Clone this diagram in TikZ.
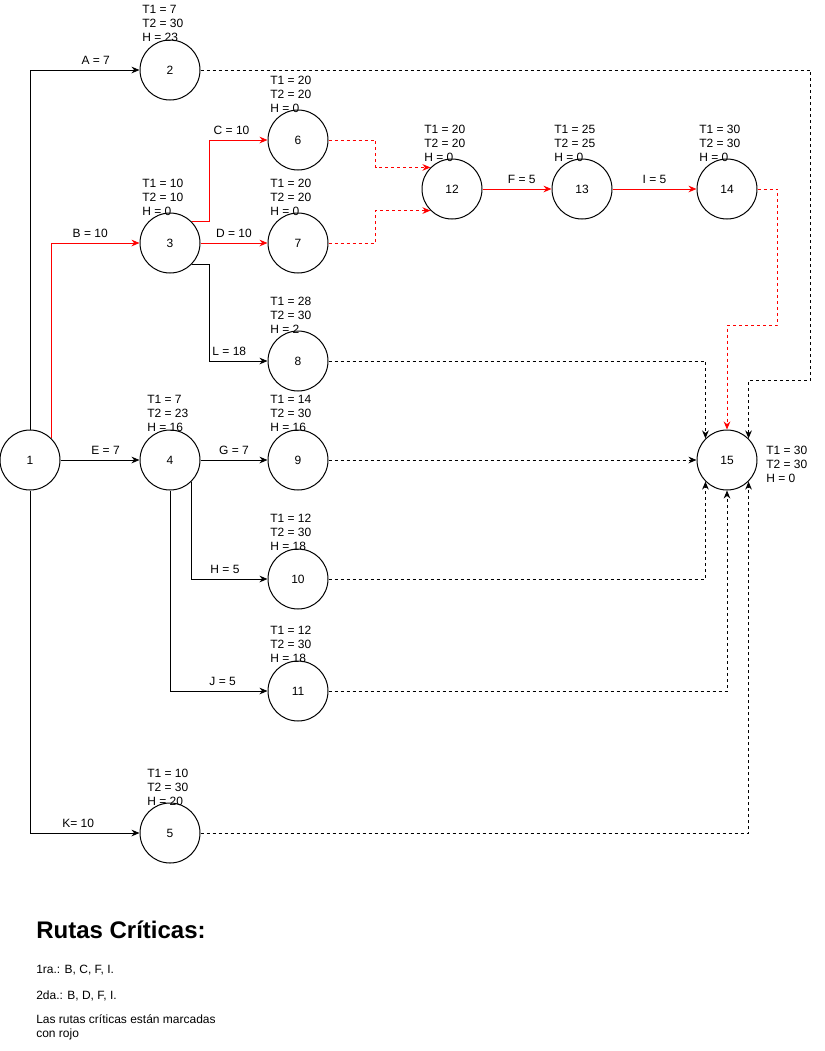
\documentclass[tikz,border=0pt]{standalone}
\usepackage{fontspec}
\setmainfont{Liberation Sans}
\usepackage{xcolor}
\usetikzlibrary{arrows.meta}

\begin{document}
\begin{tikzpicture}[x=0.75pt, y=-0.75pt, font=\fontsize{9}{10.5}\selectfont]
    \tikzstyle{event} = [circle, draw=black, fill=white, line width=0.75pt, minimum size=45pt, inner sep=0pt]
    \tikzstyle{info} = [anchor=west, align=left, inner sep=0pt]
    \tikzstyle{lbl} = [above=4pt, inner sep=0pt]
    \tikzstyle{act} = [line width=0.75pt, -{Stealth[length=6pt, width=5pt]}]
    \tikzstyle{crit} = [act, draw=red]
    \tikzstyle{dummy} = [act, dash pattern=on 2.25pt off 2.25pt]

    \useasboundingbox (0,0) rectangle (825,1051);

    % events
    \node (n1) [event] at (30,460) {1};
    \node (n2) [event] at (170,70) {2};
    \node (n3) [event] at (170,243) {3};
    \node (n4) [event] at (170,460) {4};
    \node (n5) [event] at (170,833) {5};
    \node (n6) [event] at (298,140) {6};
    \node (n7) [event] at (298,243) {7};
    \node (n8) [event] at (298,361) {8};
    \node (n9) [event] at (298,460) {9};
    \node (n10) [event] at (298,579) {10};
    \node (n11) [event] at (298,691) {11};
    \node (n12) [event] at (452,189) {12};
    \node (n13) [event] at (582,189) {13};
    \node (n14) [event] at (727,189) {14};
    \node (n15) [event] at (727,460) {15};

    % times
    \node (i2) [info] at (142,23) {T1 = 7\\T2 = 30\\H = 23};
    \node (i3) [info] at (142,197) {T1 = 10\\T2 = 10\\H = 0};
    \node (i4) [info] at (147,413) {T1 = 7\\T2 = 23\\H = 16};
    \node (i5) [info] at (147,787) {T1 = 10\\T2 = 30\\H = 20};
    \node (i6) [info] at (270,94) {T1 = 20\\T2 = 20\\H = 0};
    \node (i7) [info] at (270,197) {T1 = 20\\T2 = 20\\H = 0};
    \node (i8) [info] at (270,315) {T1 = 28\\T2 = 30\\H = 2};
    \node (i9) [info] at (270,413) {T1 = 14\\T2 = 30\\H = 16};
    \node (i10) [info] at (270,532) {T1 = 12\\T2 = 30\\H = 18};
    \node (i11) [info] at (270,644) {T1 = 12\\T2 = 30\\H = 18};
    \node (i12) [info] at (424,143) {T1 = 20\\T2 = 20\\H = 0};
    \node (i13) [info] at (554,143) {T1 = 25\\T2 = 25\\H = 0};
    \node (i14) [info] at (699,143) {T1 = 30\\T2 = 30\\H = 0};
    \node (i15) [info] at (766,464) {T1 = 30\\T2 = 30\\H = 0};

    % activities
    \draw[act] (n1) |- node[lbl, pos=0.8] {A = 7} (n2);
    \draw[crit] (n1.45) |- node[lbl, pos=0.72] {B = 10} (n3);
    \draw[crit] (n3.45) -- ++(18,0) |- node[lbl, pos=0.69] {C = 10} (n6);
    \draw[crit] (n3) -- node[lbl] {D = 10} (n7);
    \draw[act] (n3.-45) -- ++(18,0) |- node[lbl, pos=0.67] {L = 18} (n8);
    \draw[act] (n1) -- node[lbl, pos=0.57] {E = 7} (n4);
    \draw[act] (n4) -- node[lbl] {G = 7} (n9);
    \draw[act] (n4.-45) |- node[lbl, pos=0.72] {H = 5} (n10);
    \draw[act] (n4) |- node[lbl, pos=0.77] {J = 5} (n11);
    \draw[act] (n1) |- node[lbl, pos=0.72] {K= 10} (n5);
    \draw[crit] (n12) -- node[lbl, pos=0.57] {F = 5} (n13);
    \draw[crit] (n13) -- node[lbl] {I = 5} (n14);

    % dummies
    \draw[dummy, red] (n6.east) -- ++(47,0) |- (n12.135);
    \draw[dummy, red] (n7.east) -- ++(47,0) |- (n12.-135);
    \draw[dummy, red] (n14.east) -- ++(20,0) -- ++(0,136) -| (n15);
    \draw[dummy] (n2.east) -- ++(610,0) -- ++(0,310) -| (n15.45);
    \draw[dummy] (n8) -| (n15.135);
    \draw[dummy] (n9) -- (n15);
    \draw[dummy] (n10) -| (n15.-135);
    \draw[dummy] (n11) -| (n15);
    \draw[dummy] (n5) -| (n15.-45);

    % notes
    \node (title) [anchor=base west, inner sep=0pt, font=\bfseries\fontsize{18}{21}\selectfont] at (36,938) {Rutas Críticas:};
    \node (r1) [anchor=base west, inner sep=0pt] at (36,973) {1ra.: B, C, F, I.};
    \node (r2) [anchor=base west, inner sep=0pt] at (36,999) {2da.: B, D, F, I.};
    \node (note) [info] at (36,1027) {Las rutas críticas están marcadas\\con rojo};
\end{tikzpicture}
\end{document}
